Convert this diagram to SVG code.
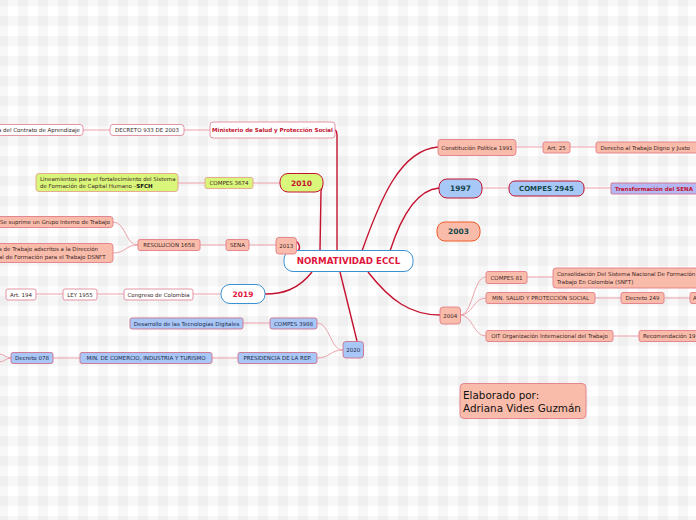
<svg xmlns="http://www.w3.org/2000/svg" width="696" height="520" viewBox="0 0 696 520">
<defs>
<pattern id="bg" width="20" height="20" patternUnits="userSpaceOnUse" x="-2" y="-4">
<rect width="20" height="20" fill="#ffffff"/>
<rect x="0" y="0" width="10" height="20" fill="#000" fill-opacity="0.03"/>
<rect x="0" y="0" width="20" height="10" fill="#000" fill-opacity="0.03"/>
</pattern>
<style>
text{font-family:"DejaVu Sans","Verdana",sans-serif;}
.s{font-size:5.5px;fill:#3a2626;}
.sb{font-size:5.5px;fill:#1e2a48;}
.w{fill:#ffffff;stroke:#e0899a;stroke-width:0.9;}
.sa{fill:#f9bcaa;stroke:#e27d88;stroke-width:0.9;}
.bl{fill:#a8c6f6;stroke:#d0708c;stroke-width:0.9;}
.li{fill:#d9f57a;stroke:#e3a58a;stroke-width:0.9;}
.sub{fill:none;stroke:#eba3ab;stroke-width:1;}
.main{fill:none;stroke:#c4122f;stroke-width:1.4;}
.yr{font-size:7.5px;font-weight:bold;text-anchor:middle;}
</style>
</defs>
<rect width="696" height="520" fill="url(#bg)"/>

<g id="connectors">
<path class="main" d="M362 251 C380 200 400 150 438 147"/>
<path class="main" d="M390 251 C400 220 415 190 439 188"/>
<path class="main" d="M368 272 C390 300 410 315 440 315"/>
<path class="main" d="M340 272 L357 341"/>
<path class="main" d="M298 251 C301 248 299 243 296 241"/>
<path class="main" d="M320 251 L321 191 Q322 187 322.5 185"/>
<path class="main" d="M337 251 L337 136 Q337 131 335 130"/>
<path class="main" d="M312 272 C298 290 282 294 265 294"/>

<path class="sub" d="M184 130 H210"/>
<path class="sub" d="M83 130 H110"/>
<path class="sub" d="M253 183 H280"/>
<path class="sub" d="M178 183 H205"/>
<path class="sub" d="M249 245 H276"/>
<path class="sub" d="M200 245 H226"/>
<path class="sub" d="M138 245 C125 245 126 222 113 222"/>
<path class="sub" d="M138 245 C125 245 126 253 113 253"/>
<path class="sub" d="M193 294 H221"/>
<path class="sub" d="M97 294 H124"/>
<path class="sub" d="M36 294 H63"/>
<path class="sub" d="M343 350 C330 350 330 323 317 323"/>
<path class="sub" d="M343 350 C330 350 330 358 317 358"/>
<path class="sub" d="M243 323 H270"/>
<path class="sub" d="M212 358 H238"/>
<path class="sub" d="M53 358 H80"/>
<path class="sub" d="M11 358 C6 358 4 354 -1 354"/>
<path class="sub" d="M11 358 C6 358 4 362 -1 362"/>

<path class="sub" d="M516 147 H543"/>
<path class="sub" d="M570 147 H596"/>
<path class="sub" d="M482 188 H509"/>
<path class="sub" d="M584 188 H611"/>
<path class="sub" d="M460 315 C473 315 473 277 486 277"/>
<path class="sub" d="M460 315 C473 315 473 298 486 298"/>
<path class="sub" d="M460 315 C473 315 473 336 486 336"/>
<path class="sub" d="M527 277 H553"/>
<path class="sub" d="M595 298 H621"/>
<path class="sub" d="M664 298 H690"/>
<path class="sub" d="M613 336 H639"/>
</g>

<g id="center">
<rect x="284" y="250.5" width="129" height="21" rx="9" fill="#fff" stroke="#3a91d4" stroke-width="1"/>
<text x="348.5" y="264.2" font-size="8.7" font-weight="bold" fill="#e0163c" text-anchor="middle">NORMATIVIDAD ECCL</text>
</g>

<g id="ministerio">
<rect class="w" x="210" y="122" width="125" height="16" rx="3"/>
<text x="272.5" y="132" font-size="5.5" font-weight="bold" fill="#c4122f" text-anchor="middle">Ministerio de Salud y Protección Social</text>
</g>
<g id="decreto933">
<rect class="w" x="110" y="124.5" width="74" height="11" rx="3"/>
<text class="s" x="147" y="132" text-anchor="middle">DECRETO 933 DE 2003</text>
</g>
<g id="contrato">
<rect class="w" x="-10" y="124.5" width="93" height="11" rx="3"/>
<text class="s" x="80" y="132" text-anchor="end">a del Contrato de Aprendizaje</text>
</g>

<g id="y2010">
<rect x="280" y="173.5" width="43" height="18.5" rx="8" fill="#d9f77a" stroke="#c4122f" stroke-width="1"/>
<text class="yr" x="301.5" y="185.5" fill="#c4122f">2010</text>
</g>
<g id="compes3674">
<rect class="li" x="205" y="177.5" width="48" height="11" rx="2"/>
<text class="s" x="229" y="185" text-anchor="middle">COMPES 3674</text>
</g>
<g id="lineamientos">
<rect class="li" x="36" y="173.5" width="142" height="18" rx="3"/>
<text class="s" x="40" y="181.2">Lineamientos para el fortalecimiento del Sistema</text>
<text class="s" x="40" y="188.2">de Formación de Capital Humano –<tspan font-weight="bold" fill="#111">SFCH</tspan></text>
</g>

<g id="y2013">
<rect class="sa" x="276" y="237.5" width="20.5" height="16.5" rx="3"/>
<text class="s" x="286.2" y="247.7" text-anchor="middle">2013</text>
</g>
<g id="sena">
<rect class="sa" x="226" y="239.5" width="23" height="11" rx="2"/>
<text class="s" x="237.5" y="247" text-anchor="middle">SENA</text>
</g>
<g id="resolucion">
<rect class="sa" x="138" y="239.5" width="62" height="11" rx="2"/>
<text class="s" x="169" y="247" text-anchor="middle">RESOLUCIÓN 1658</text>
</g>
<g id="suprime">
<rect class="sa" x="-10" y="216.5" width="123" height="11" rx="3"/>
<text class="s" x="110" y="224" text-anchor="end">Se suprime un Grupo Interno de Trabajo</text>
</g>
<g id="grupos">
<rect class="sa" x="-10" y="243.5" width="123" height="19" rx="3"/>
<text class="s" x="-1" y="251.2">s de Trabajo adscritos a la Dirección</text>
<text class="s" x="-1" y="258.7">al de Formación para el Trabajo DSNFT</text>
</g>

<g id="y2019">
<rect x="221" y="284.5" width="44" height="19" rx="9" fill="#fff" stroke="#3a91d4" stroke-width="1"/>
<text class="yr" x="243" y="297" fill="#e0163c">2019</text>
</g>
<g id="congreso">
<rect class="w" x="124" y="289" width="69" height="11" rx="2"/>
<text class="s" x="158.5" y="296.5" text-anchor="middle">Congreso de Colombia</text>
</g>
<g id="ley1955">
<rect class="w" x="63" y="289" width="34" height="11" rx="2"/>
<text class="s" x="80" y="296.5" text-anchor="middle">LEY 1955</text>
</g>
<g id="art194">
<rect class="w" x="6" y="289" width="30" height="11" rx="2"/>
<text class="s" x="21" y="296.5" text-anchor="middle">Art. 194</text>
</g>

<g id="y2020">
<rect class="bl" x="343" y="341.5" width="20.5" height="16.5" rx="3"/>
<text class="sb" x="353.2" y="351.7" text-anchor="middle">2020</text>
</g>
<g id="compes3988">
<rect class="bl" x="270" y="318" width="47" height="11" rx="2"/>
<text class="sb" x="293.5" y="325.5" text-anchor="middle">COMPES 3988</text>
</g>
<g id="desarrollo">
<rect class="bl" x="130" y="318" width="113" height="11" rx="2"/>
<text class="sb" x="186.5" y="325.5" text-anchor="middle">Desarrollo de las Tecnologías Digitales</text>
</g>
<g id="presidencia">
<rect class="bl" x="238" y="352.5" width="79" height="11" rx="2"/>
<text class="sb" x="277.5" y="360" text-anchor="middle">PRESIDENCIA DE LA REP.</text>
</g>
<g id="mincomercio">
<rect class="bl" x="80" y="352.5" width="132" height="11" rx="2"/>
<text class="sb" x="146" y="360" text-anchor="middle">MIN. DE COMERCIO, INDUSTRIA Y TURISMO</text>
</g>
<g id="decreto078">
<rect class="bl" x="11" y="352.5" width="42" height="11" rx="2"/>
<text class="sb" x="32" y="360" text-anchor="middle">Decreto 078</text>
</g>

<g id="constitucion">
<rect class="sa" x="438" y="139.5" width="78" height="16" rx="3"/>
<text class="s" x="477" y="149.5" text-anchor="middle">Constitución Política 1991</text>
</g>
<g id="art25">
<rect class="sa" x="543" y="142" width="27" height="11" rx="2"/>
<text class="s" x="556.5" y="149.5" text-anchor="middle">Art. 25</text>
</g>
<g id="derecho">
<rect class="sa" x="596" y="142" width="103" height="11" rx="2"/>
<text class="s" x="600.5" y="149.5">Derecho al Trabajo Digno y Justo</text>
</g>

<g id="y1997">
<rect x="439" y="179" width="43" height="19" rx="8" fill="#a8c8f8" stroke="#c4122f" stroke-width="1"/>
<text class="yr" x="460.5" y="191.3" fill="#16484c">1997</text>
</g>
<g id="compes2945">
<rect x="509" y="181" width="75" height="15" rx="6" fill="#a8c8f8" stroke="#c4122f" stroke-width="1"/>
<text x="546.5" y="191.2" font-size="7" font-weight="bold" fill="#16484c" text-anchor="middle">COMPES 2945</text>
</g>
<g id="transformacion">
<rect x="611" y="183" width="90" height="11" rx="1" fill="#b4b8f4" stroke="#d0708c" stroke-width="0.9"/>
<text x="615" y="190.5" font-size="5.5" font-weight="bold" fill="#c4122f">Transformación del SENA</text>
</g>

<g id="y2003">
<rect x="437" y="222" width="43" height="19" rx="8" fill="#f9bcaa" stroke="#f05a28" stroke-width="1"/>
<text class="yr" x="458.5" y="234.3" fill="#16484c">2003</text>
</g>

<g id="y2004">
<rect class="sa" x="440" y="307" width="20.5" height="17" rx="3"/>
<text class="s" x="450.2" y="317.5" text-anchor="middle">2004</text>
</g>
<g id="compes81">
<rect class="sa" x="486" y="271.5" width="41" height="12" rx="2"/>
<text class="s" x="506.5" y="279.5" text-anchor="middle">COMPES 81</text>
</g>
<g id="consolidacion">
<rect class="sa" x="553" y="268" width="150" height="20" rx="3"/>
<text class="s" x="557" y="276">Consolidación Del Sistema Nacional De Formación</text>
<text class="s" x="557" y="283.5">Trabajo En Colombia (SNFT)</text>
</g>
<g id="minsalud">
<rect class="sa" x="486" y="292.5" width="109" height="11" rx="2"/>
<text class="s" x="540.5" y="300" text-anchor="middle">MIN. SALUD Y PROTECCIÓN SOCIAL</text>
</g>
<g id="decreto249">
<rect class="sa" x="621" y="292.5" width="43" height="11" rx="2"/>
<text class="s" x="642.5" y="300" text-anchor="middle">Decreto 249</text>
</g>
<g id="a249">
<rect class="sa" x="690" y="292.5" width="20" height="11" rx="2"/>
<text class="s" x="693" y="300">A</text>
</g>
<g id="oit">
<rect class="sa" x="486" y="330.5" width="127" height="11" rx="2"/>
<text class="s" x="549.5" y="338" text-anchor="middle">OIT Organización Internacional del Trabajo</text>
</g>
<g id="recomendacion">
<rect class="sa" x="639" y="330.5" width="70" height="11" rx="2"/>
<text class="s" x="643" y="338">Recomendación 19</text>
</g>

<g id="elaborado">
<rect x="460" y="383.5" width="126" height="35" rx="4" fill="#f9bcaa" stroke="#e27d88" stroke-width="0.9"/>
<text x="463" y="398.5" font-size="10.4" fill="#111">Elaborado por:</text>
<text x="463" y="411.8" font-size="10.4" fill="#111">Adriana Vides Guzmán</text>
</g>
</svg>
